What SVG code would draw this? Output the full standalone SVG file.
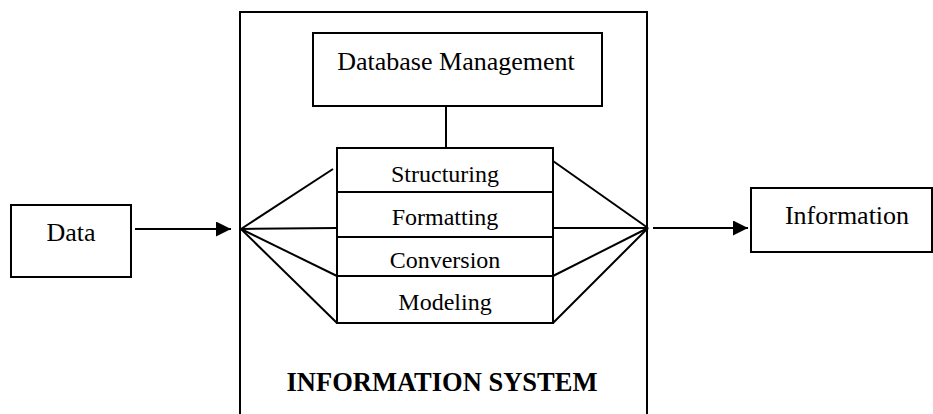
<svg xmlns="http://www.w3.org/2000/svg" width="933" height="414" viewBox="0 0 933 414">
<style>
.box{fill:#fff;stroke:#000;stroke-width:2}
.ln{stroke:#000;stroke-width:2;fill:none}
.t{font-family:"Liberation Serif","Times New Roman",serif;fill:#000;text-anchor:middle}
.big{font-size:26px}
.sm{font-size:24px}
.bold{font-size:26.5px;font-weight:bold}
</style>
<defs>
<marker id="arr" markerWidth="16" markerHeight="16" refX="15" refY="7.5" orient="auto" markerUnits="userSpaceOnUse">
<path d="M0,0 L15,7.5 L0,15 Z" fill="#000"/>
</marker>
</defs>
<rect width="933" height="414" fill="#fff"/>
<g id="system">
<path class="ln" d="M240,420 V12 H647 V420"/>
<text class="t bold" x="442" y="391">INFORMATION SYSTEM</text>
</g>
<g id="db">
<rect class="box" x="313" y="33" width="289" height="73"/>
<text class="t big" x="456" y="70">Database Management</text>
</g>
<g id="data">
<rect class="box" x="11" y="205" width="120" height="72"/>
<text class="t big" x="71" y="241">Data</text>
</g>
<g id="information">
<rect class="box" x="751" y="188" width="181" height="64"/>
<text class="t big" x="847" y="224">Information</text>
</g>
<g id="structuring">
<rect class="box" x="337" y="148" width="216" height="44"/>
<text class="t sm" x="445" y="182">Structuring</text>
</g>
<g id="formatting">
<rect class="box" x="337" y="192" width="216" height="45"/>
<text class="t sm" x="445" y="225">Formatting</text>
</g>
<g id="conversion">
<rect class="box" x="337" y="237" width="216" height="39"/>
<text class="t sm" x="445" y="268">Conversion</text>
</g>
<g id="modeling">
<rect class="box" x="337" y="276" width="216" height="47"/>
<text class="t sm" x="445" y="310">Modeling</text>
</g>
<g id="connectors">
<line class="ln" x1="135" y1="229" x2="231" y2="229" marker-end="url(#arr)"/>
<line class="ln" x1="653" y1="228" x2="748" y2="228" marker-end="url(#arr)"/>
<line class="ln" x1="446" y1="106" x2="446" y2="148"/>
<line class="ln" x1="241" y1="229" x2="333" y2="169"/>
<line class="ln" x1="241" y1="229" x2="337" y2="228"/>
<line class="ln" x1="241" y1="229" x2="337" y2="276"/>
<line class="ln" x1="241" y1="229" x2="337" y2="323"/>
<line class="ln" x1="553" y1="161" x2="648" y2="228"/>
<line class="ln" x1="553" y1="228" x2="648" y2="228"/>
<line class="ln" x1="553" y1="276" x2="648" y2="228"/>
<line class="ln" x1="553" y1="323" x2="648" y2="228"/>
</g>
</svg>
